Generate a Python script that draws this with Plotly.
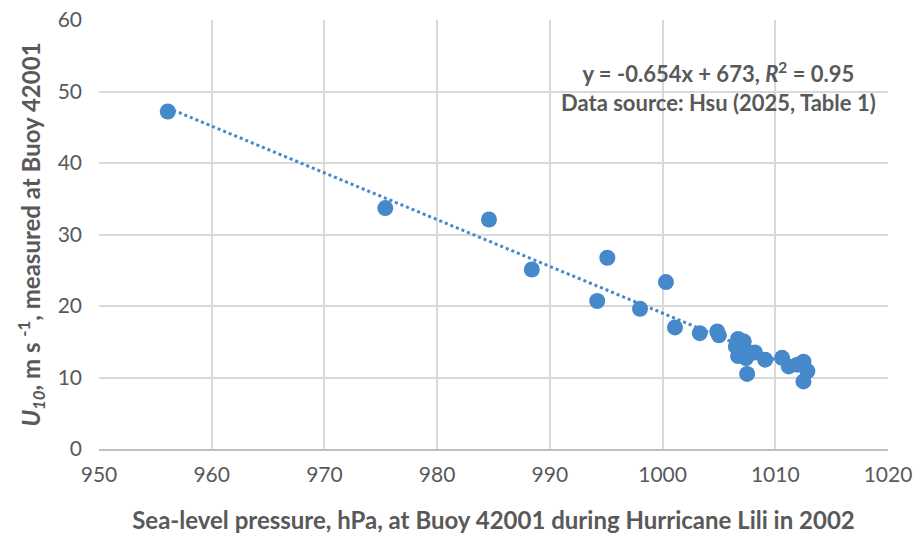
import numpy as np
import plotly.graph_objects as go

pressure = [956.1, 975.4, 984.6, 988.4, 994.2, 995.1, 998.0, 1000.3, 1001.1,
            1003.3, 1004.85, 1005.0, 1006.7, 1007.2, 1006.5, 1007.5, 1008.2,
            1006.7, 1007.4, 1007.5, 1009.1, 1010.6, 1011.2, 1011.95, 1012.5,
            1012.85, 1012.5]
u10 = [47.2, 33.7, 32.1, 25.1, 20.7, 26.75, 19.6, 23.35, 17.0,
       16.2, 16.45, 15.9, 15.4, 15.05, 14.35, 13.65, 13.5,
       13.0, 12.7, 10.5, 12.5, 12.75, 11.55, 11.8, 12.2,
       10.9, 9.45]

slope, intercept = -0.654, 673.0
x_trend = [min(pressure), max(pressure)]
y_trend = [slope * x + intercept for x in x_trend]

xticks = [950, 960, 970, 980, 990, 1000, 1010, 1020]
yticks = [0, 10, 20, 30, 40, 50, 60]

blue = "#4589CB"
grey = "#595959"
font = "Lato"

fig = go.Figure()
fig.add_trace(go.Scatter(x=x_trend, y=y_trend, mode="lines",
                         line=dict(color=blue, width=3, dash="dot"),
                         hoverinfo="skip", showlegend=False))
fig.add_trace(go.Scatter(x=pressure, y=u10, mode="markers",
                         marker=dict(color=blue, size=16, line=dict(width=0)),
                         showlegend=False))

fig.add_annotation(x=0.785, y=0.844, xref="paper", yref="paper",
                   text="y = -0.654x + 673, <i>R</i><sup>2</sup> = 0.95<br>Data source: Hsu (2025, Table 1)",
                   showarrow=False, align="center", xanchor="center", yanchor="middle",
                   font=dict(family=font, size=22, color=grey, weight="bold"))

fig.update_layout(
    width=915, height=534,
    margin=dict(l=99, r=27, t=20, b=85, autoexpand=False),
    plot_bgcolor="white", paper_bgcolor="white",
    font=dict(family=font, color=grey),
    xaxis=dict(range=[950, 1020], tickvals=xticks, showgrid=True,
               gridcolor="#d9d9d9", gridwidth=1.5, zeroline=False,
               showline=True, linecolor="#bfbfbf", linewidth=2,
               tickfont=dict(size=21, color=grey), ticklabelstandoff=6,
               ticklabeloverflow="allow", automargin=False,
               title=dict(text="Sea-level pressure, hPa, at Buoy 42001 during Hurricane Lili in 2002",
                          font=dict(size=24, color=grey, weight="bold"), standoff=30)),
    yaxis=dict(range=[0, 60], tickvals=yticks, showgrid=True,
               gridcolor="#d9d9d9", gridwidth=1.5, zeroline=False,
               showline=False,
               tickfont=dict(size=21, color=grey), ticklabelstandoff=16,
               ticklabeloverflow="allow", automargin=False,
               title=dict(text="<i>U</i><sub><i>10</i></sub>, m s <sup>-1</sup>, measured at Buoy 42001",
                          font=dict(size=24, color=grey, weight="bold"), standoff=10)),
)

fig.write_html("out.html", config={"displayModeBar": False},
               post_script="document.body.style.margin='0';")
